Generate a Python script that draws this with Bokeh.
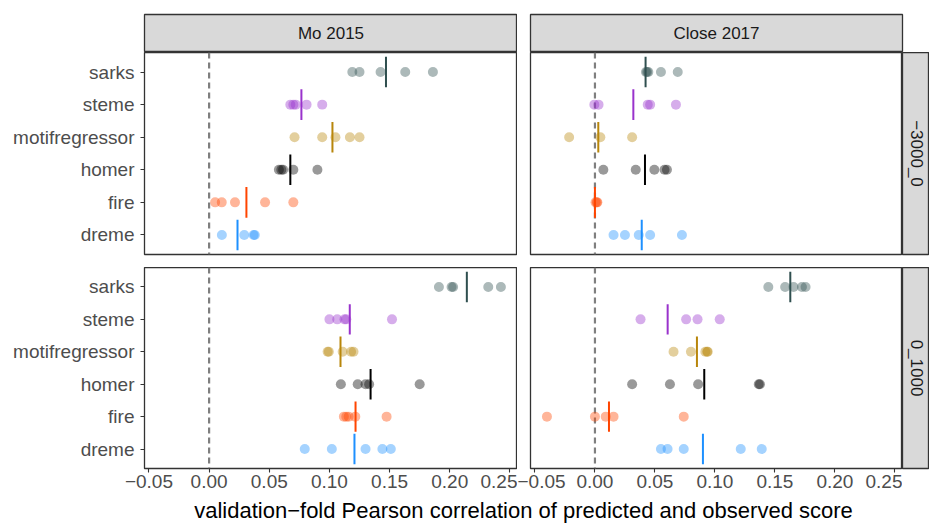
import math
from bokeh.plotting import figure
from bokeh.layouts import column, row
from bokeh.models import FactorRange, Range1d, Span, Label, FixedTicker, ColumnDataSource
from bokeh.embed import file_html
from bokeh.resources import INLINE

# ---------------- data ----------------
methods = ["sarks", "steme", "motifregressor", "homer", "fire", "dreme"]
method_colors = ["#2F4F4F", "#9932CC", "#B8860B", "#000000", "#FF4500", "#1E90FF"]
studies = ["Mo 2015", "Close 2017"]
windows = ["\u22123000_0", "0_1000"]
x_ticks = [-0.05, 0.0, 0.05, 0.10, 0.15, 0.20, 0.25]
x_tick_labels = ["\u22120.05", "0.00", "0.05", "0.10", "0.15", "0.20", "0.25"]
x_title = "validation\u2212fold Pearson correlation of predicted and observed score"

# validation-fold scores, one list per method (same order as methods)
mo2015_upstream = [
    [0.119, 0.125, 0.1425, 0.163, 0.186],
    [0.0675, 0.070, 0.072, 0.081, 0.094],
    [0.071, 0.094, 0.105, 0.117, 0.125],
    [0.058, 0.060, 0.0615, 0.070, 0.090],
    [0.005, 0.0105, 0.0215, 0.0465, 0.070],
    [0.0106, 0.0292, 0.0370, 0.0380],
]
mo2015_upstream_mean = [0.147, 0.0767, 0.1025, 0.0675, 0.031, 0.0236]

close2017_upstream = [
    [0.0425, 0.0435, 0.0445, 0.055, 0.069],
    [-0.0005, 0.003, 0.044, 0.046, 0.0675],
    [-0.0215, 0.0045, 0.031],
    [0.007, 0.034, 0.0495, 0.058, 0.060],
    [0.0005, 0.0015, 0.002],
    [0.0155, 0.025, 0.0365, 0.046, 0.0725],
]
close2017_upstream_mean = [0.0422, 0.032, 0.0028, 0.0417, 0.0, 0.039]

mo2015_downstream = [
    [0.191, 0.2015, 0.2028, 0.232, 0.2425],
    [0.100, 0.1065, 0.1125, 0.114, 0.152],
    [0.0985, 0.0995, 0.111, 0.118, 0.120],
    [0.1095, 0.1235, 0.130, 0.133, 0.175],
    [0.112, 0.114, 0.116, 0.1215, 0.1475],
    [0.0795, 0.102, 0.130, 0.144, 0.151],
]
mo2015_downstream_mean = [0.2142, 0.1169, 0.1092, 0.1342, 0.1217, 0.1208]

close2017_downstream = [
    [0.1445, 0.1585, 0.1655, 0.1725, 0.1755],
    [0.038, 0.076, 0.0855, 0.104],
    [0.0655, 0.080, 0.092, 0.0935, 0.094],
    [0.031, 0.0625, 0.086, 0.1365, 0.1375],
    [-0.040, 0.0, 0.009, 0.0155, 0.074],
    [0.055, 0.0605, 0.074, 0.1215, 0.139],
]
close2017_downstream_mean = [0.1628, 0.0606, 0.085, 0.0911, 0.0117, 0.090]

# ---------------- styling ----------------
FONT = "Liberation Sans"
X_MIN, X_MAX = -0.0537, 0.2563
BORDER = "#333333"
LEFT_W, RIGHT_W = 373, 372
TOP_H, BOT_H = 202, 201
GAP = 13
Y_AXIS_W = 144
STRIP_TOP = 14
STRIP_H = 38
RSTRIP_W = 27
XAXIS_H = 29
TITLE_H = 26


def style_axis(ax, standoff):
    ax.major_label_text_font = FONT
    ax.major_label_text_font_size = "19px"
    ax.major_label_text_color = "#4D4D4D"
    ax.major_tick_line_color = BORDER
    ax.major_tick_line_width = 1.1
    ax.major_tick_out = 4
    ax.major_tick_in = 0
    ax.minor_tick_line_color = None
    ax.axis_line_color = None
    ax.major_label_standoff = standoff


def panel(folds, means, fw, fh, left, bottom, show_y, show_x):
    p = figure(frame_width=fw, frame_height=fh,
               x_range=Range1d(X_MIN, X_MAX),
               y_range=FactorRange(factors=methods[::-1], range_padding=0.1,
                                   range_padding_units="absolute"),
               x_axis_location="below" if show_x else None,
               y_axis_location="left" if show_y else None,
               min_border_left=left, min_border_right=0,
               min_border_top=0, min_border_bottom=bottom,
               output_backend="svg", toolbar_location=None)
    p.grid.visible = False
    p.outline_line_color = BORDER
    p.outline_line_width = 1.3
    p.background_fill_color = "white"
    zero = Span(location=0, dimension="height", line_color="#7F7F7F",
                line_width=2.2, line_dash="6 4", level="underlay")
    p.add_layout(zero)

    xs, ys, cs = [], [], []
    for m, c, vals in zip(methods, method_colors, folds):
        for v in vals:
            xs.append(v)
            ys.append(m)
            cs.append(c)
    pts = ColumnDataSource(dict(x=xs, y=ys, c=cs))
    p.scatter("x", "y", source=pts, size=10, fill_color="c", fill_alpha=0.4,
              line_color=None)
    mean_src = ColumnDataSource(dict(x=means, y=methods, c=method_colors))
    p.rect("x", "y", source=mean_src, width=2, width_units="screen", height=0.94,
           fill_color="c", line_color=None)

    if show_y:
        style_axis(p.yaxis[0], 6)
    if show_x:
        ax = p.xaxis[0]
        style_axis(ax, 2)
        ax.ticker = FixedTicker(ticks=x_ticks)
        ax.major_label_overrides = dict(zip(x_ticks, x_tick_labels))
    return p


def strip(text, fw, fh, left, right, top, bottom, angle=0.0):
    s = figure(frame_width=fw, frame_height=fh,
               x_range=Range1d(0, 1), y_range=Range1d(0, 1),
               x_axis_location=None, y_axis_location=None,
               min_border_left=left, min_border_right=right,
               min_border_top=top, min_border_bottom=bottom,
               output_backend="svg", toolbar_location=None)
    s.grid.visible = False
    s.background_fill_color = "#D9D9D9"
    s.outline_line_color = BORDER
    s.outline_line_width = 1.3
    s.add_layout(Label(x=0.5, y=0.5, text=text, angle=angle,
                       text_align="center", text_baseline="middle",
                       text_font=FONT, text_font_size="17px",
                       text_color="#1A1A1A"))
    return s


strip_tl = strip(studies[0], LEFT_W, STRIP_H, Y_AXIS_W, 0, STRIP_TOP, 0)
strip_tr = strip(studies[1], RIGHT_W, STRIP_H, GAP, RSTRIP_W, STRIP_TOP, 0)

p_tl = panel(mo2015_upstream, mo2015_upstream_mean, LEFT_W, TOP_H, Y_AXIS_W, GAP, True, False)
p_tr = panel(close2017_upstream, close2017_upstream_mean, RIGHT_W, TOP_H, GAP, GAP, False, False)
strip_r1 = strip(windows[0], RSTRIP_W, TOP_H, 0, 0, 0, GAP, angle=-math.pi / 2)

p_bl = panel(mo2015_downstream, mo2015_downstream_mean, LEFT_W, BOT_H, Y_AXIS_W, XAXIS_H, True, True)
p_br = panel(close2017_downstream, close2017_downstream_mean, RIGHT_W, BOT_H, GAP, XAXIS_H, False, True)
strip_r2 = strip(windows[1], RSTRIP_W, BOT_H, 0, 0, 0, XAXIS_H, angle=-math.pi / 2)

t = figure(width=929, height=TITLE_H, x_range=Range1d(0, 929), y_range=Range1d(0, TITLE_H),
           x_axis_location=None, y_axis_location=None, min_border=0,
           output_backend="svg", toolbar_location=None)
t.grid.visible = False
t.outline_line_color = None
t.add_layout(Label(x=Y_AXIS_W + (LEFT_W + GAP + RIGHT_W) / 2, y=TITLE_H / 2, text=x_title,
                   text_align="center", text_baseline="middle",
                   text_font=FONT, text_font_size="22px", text_color="#000000"))

layout = column(
    row(strip_tl, strip_tr, spacing=0),
    row(p_tl, p_tr, strip_r1, spacing=0),
    row(p_bl, p_br, strip_r2, spacing=0),
    t,
    spacing=0,
)

open("out.html", "w").write(file_html(layout, INLINE))
